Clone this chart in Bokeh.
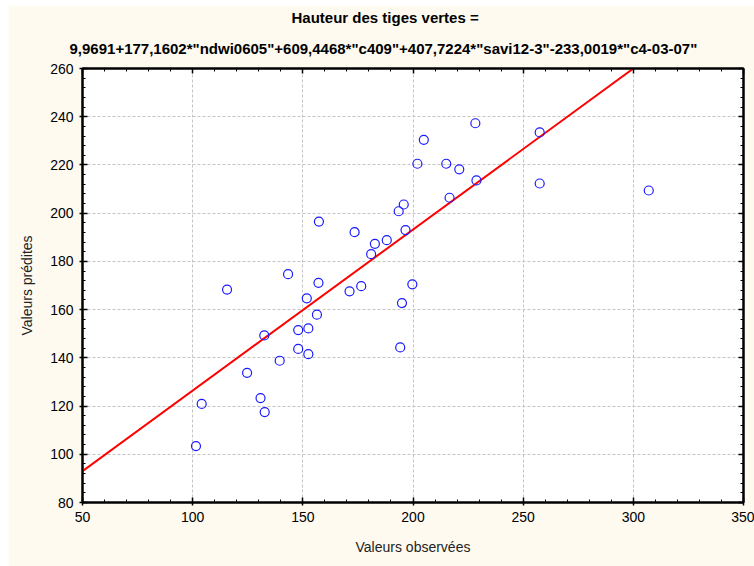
from bokeh.plotting import figure
from bokeh.models import (Range1d, LinearAxis, Title, CustomJSTickFormatter,
                          SingleIntervalTicker)
from bokeh.embed import file_html
from bokeh.resources import INLINE

# Observed vs predicted stem heights
observed = [101.5, 104.1, 115.6, 124.7, 130.8, 132.7, 132.5, 139.5, 143.3, 147.9,
            147.9, 151.8, 152.5, 152.5, 156.4, 157.1, 157.3, 171.2, 173.5, 176.5,
            181.0, 182.7, 188.1, 193.5, 195.8, 196.6, 195.0, 199.7, 194.2, 202.0,
            204.9, 215.1, 216.6, 221.0, 228.3, 228.8, 257.5, 257.5, 307.0]
predicted = [103.4, 120.9, 168.3, 133.8, 123.3, 117.5, 149.3, 138.8, 174.7, 151.5,
             143.7, 164.7, 152.2, 141.5, 157.9, 171.1, 196.5, 167.6, 192.1, 169.7,
             183.0, 187.3, 188.8, 200.8, 203.6, 193.0, 162.7, 170.5, 144.3, 220.5,
             230.4, 220.5, 206.4, 218.2, 237.3, 213.6, 233.5, 212.3, 209.4]

# Fitted line (predicted on observed)
fit_intercept = 59.6
fit_slope = 0.668
fit_x = [50, 350]

x_ticks = [50, 100, 150, 200, 250, 300, 350]
y_ticks = [80, 100, 120, 140, 160, 180, 200, 220, 240, 260]

title_1 = "Hauteur des tiges vertes ="
title_2 = '9,9691+177,1602*"ndwi0605"+609,4468*"c409"+407,7224*"savi12-3"-233,0019*"c4-03-07"'

BG = "#FEFAF0"
FONT = "Liberation Sans"

p = figure(frame_width=661, frame_height=434,
           min_border_left=74, min_border_right=11,
           min_border_top=63, min_border_bottom=64,
           x_range=Range1d(50, 350), y_range=Range1d(80, 260),
           output_backend="svg", toolbar_location=None,
           background_fill_color="white", border_fill_color=BG,
           margin=(5, 0, 0, 8))

p.outline_line_color = "black"
p.outline_line_width = 2

# grid
for g, t in ((p.xgrid, x_ticks), (p.ygrid, y_ticks)):
    g.ticker = t
    g.grid_line_color = "#C4C4C4"
    g.grid_line_dash = "3 2"
    g.grid_line_width = 1


def style_axis(ax, ticker, labels=True):
    ax.ticker = ticker
    ax.axis_line_color = "black"
    ax.axis_line_width = 2
    ax.major_tick_line_color = "black"
    ax.minor_tick_line_color = "black"
    ax.major_tick_line_width = 1.5
    ax.minor_tick_line_width = 1
    ax.major_tick_in = 5
    ax.major_tick_out = 3
    ax.minor_tick_in = 3
    ax.minor_tick_out = 0
    ax.major_label_text_font = FONT
    ax.major_label_text_font_size = "14px"
    ax.major_label_text_color = "black"
    ax.axis_label_text_font = FONT
    ax.axis_label_text_font_size = "14px"
    ax.axis_label_text_font_style = "normal"
    ax.axis_label_text_color = "#222222"
    if not labels:
        ax.formatter = CustomJSTickFormatter(code="return ''")
        ax.major_label_standoff = 0
        ax.major_tick_out = 0


style_axis(p.xaxis[0], SingleIntervalTicker(interval=50, num_minor_ticks=5))
style_axis(p.yaxis[0], SingleIntervalTicker(interval=20, num_minor_ticks=5))
p.xaxis[0].major_label_standoff = 6
p.yaxis[0].major_label_standoff = 6
p.xaxis[0].axis_label = "Valeurs observées"
p.yaxis[0].axis_label = "Valeurs prédites"
p.xaxis[0].axis_label_standoff = 14
p.yaxis[0].axis_label_standoff = 12

top_ax = LinearAxis()
right_ax = LinearAxis()
style_axis(top_ax, SingleIntervalTicker(interval=50, num_minor_ticks=5), labels=False)
style_axis(right_ax, SingleIntervalTicker(interval=20, num_minor_ticks=5), labels=False)
p.add_layout(top_ax, "above")
p.add_layout(right_ax, "right")

# two-line title, left aligned with offsets so both lines centre on the page
for txt, off, so in ((title_2, -13, 24), (title_1, 209, 0)):
    p.add_layout(Title(text=txt, align="left", offset=off, standoff=so,
                       text_font=FONT, text_font_size="15px",
                       text_font_style="bold", text_color="black"), "above")

# regression line
fit_y = [fit_intercept + fit_slope * v for v in fit_x]
p.line(fit_x, fit_y, line_color="#FF0000", line_width=2)

# points
p.scatter(observed, predicted, marker="circle", size=9, fill_color=None,
          line_color="#1A1AFF", line_width=1.2)

open("out.html", "w").write(file_html(p, INLINE))
